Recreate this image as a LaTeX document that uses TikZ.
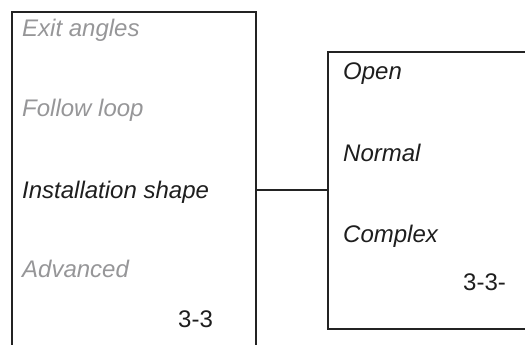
\documentclass[tikz,border=0pt]{standalone}
\usepackage{fontspec}
\setmainfont{Liberation Sans}
\definecolor{greytxt}{RGB}{150,150,152}
\definecolor{darktxt}{RGB}{30,30,30}
\definecolor{boxline}{RGB}{35,35,35}
\begin{document}
\begin{tikzpicture}[x=1pt,y=-1pt,
  frame/.style={draw=boxline,line width=1.1pt},
  item/.style={anchor=base west,inner sep=0pt,font=\fontsize{24}{28}\selectfont\itshape,text=darktxt},
  dim/.style={item,text=greytxt},
  pagenum/.style={anchor=base west,inner sep=0pt,font=\fontsize{24}{28}\selectfont,text=darktxt}]
\useasboundingbox (0,0) rectangle (525,345);
% left panel (open at bottom)
\draw[frame] (12,345) -- (12,12) -- (256,12) -- (256,345);
\node[dim]  (exit)    at (22,37)  {Exit angles};
\node[dim]  (follow)  at (22,117) {Follow loop};
\node[item] (install) at (22,198) {Installation shape};
\node[dim]  (adv)     at (22,277) {Advanced};
\node[pagenum] (pgl)  at (178,327) {3-3};
% right panel (open at right)
\draw[frame] (525,52) -- (328,52) -- (328,329) -- (525,329);
\node[item] (open)    at (343,80)  {Open};
\node[item] (normal)  at (343,161) {Normal};
\node[item] (complex) at (343,242) {Complex};
\node[pagenum] (pgr)  at (463,290) {3-3-};
% connector
\coordinate (cl) at (256,190);
\coordinate (cr) at (328,190);
\draw[frame] (cl) -- (cr);
\end{tikzpicture}
\end{document}
